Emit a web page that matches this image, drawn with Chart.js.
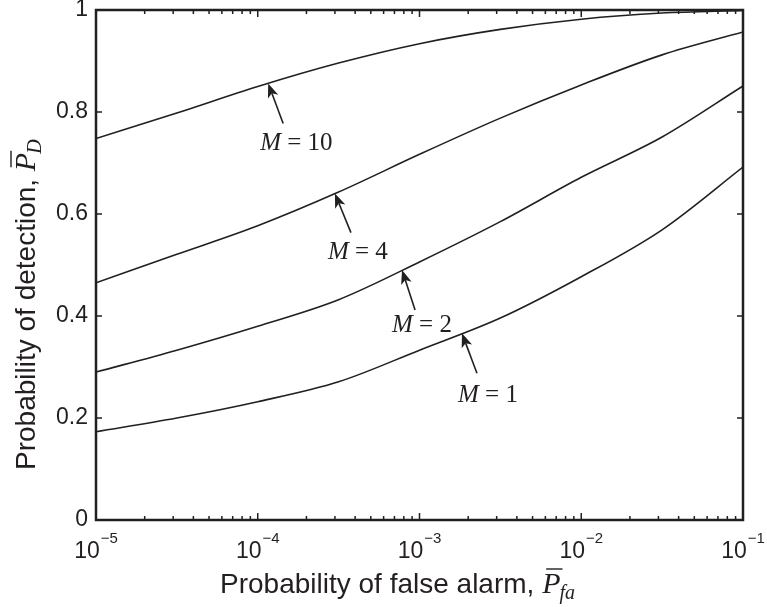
<!DOCTYPE html>
<html>
<head>
<meta charset="utf-8">
<script src="https://cdn.jsdelivr.net/npm/chart.js@4.4.1/dist/chart.umd.min.js"></script>
<style>
  html, body { margin: 0; padding: 0; background: #fff; }
  #wrap { width: 767px; height: 607px; }
</style>
</head>
<body>
<div id="wrap"><canvas id="roc" width="767" height="607"></canvas></div>
<script>
// --- data ---

// false alarm probability, half-decade steps
const pfa = [1e-5, 3.16e-5, 1e-4, 3.16e-4, 1e-3, 3.16e-3, 1e-2, 3.16e-2, 1e-1];

// detection probability for each M
const pdM1  = [0.173, 0.200, 0.232, 0.271, 0.333, 0.396, 0.477, 0.569, 0.692];
const pdM2  = [0.290, 0.333, 0.380, 0.432, 0.506, 0.585, 0.672, 0.751, 0.851];
const pdM4  = [0.465, 0.521, 0.577, 0.643, 0.717, 0.788, 0.853, 0.912, 0.957];
const pdM10 = [0.748, 0.798, 0.850, 0.896, 0.934, 0.962, 0.982, 0.994, 0.999];

const seriesNames = ['M = 1', 'M = 2', 'M = 4', 'M = 10'];
const seriesVals = [pdM1, pdM2, pdM4, pdM10];

const yTicks = [0, 0.2, 0.4, 0.6, 0.8, 1];
const yTickLabels = ['0', '0.2', '0.4', '0.6', '0.8', '1'];
const xTickExps = [-5, -4, -3, -2, -1];

// arrows: which curve, and the P_fa where the arrow touches it
const annoSeries = [3, 2, 1, 0];
const annoPfa = [1.16e-4, 3.0e-4, 7.8e-4, 1.83e-3];

// --- styling ---
const ink = '#231f20';
const sans = '"Liberation Sans", Arial, Helvetica, sans-serif';
const serif = '"Liberation Serif", "Times New Roman", serif';

// tail / label offsets from the arrow tip, px
const annoOffsets = [
    { tail: [15, 40], label: [-8, 67] },
    { tail: [16, 39], label: [-7, 65] },
    { tail: [13, 40], label: [-10, 62] },
    { tail: [15, 40], label: [-4, 69] }
];

function pdAt(vals, x) {
    const lx = Math.log10(x);
    for (let i = 0; i < pfa.length - 1; i++) {
        const a = Math.log10(pfa[i]), b = Math.log10(pfa[i + 1]);
        if (lx >= a && lx <= b) return vals[i] + (vals[i + 1] - vals[i]) * (lx - a) / (b - a);
    }
    return vals[vals.length - 1];
}

// "Probability of ..., P̄_sub" drawn from the current origin along the baseline
function drawAxisTitle(ctx, text, sub) {
    ctx.textBaseline = 'alphabetic';
    ctx.textAlign = 'left';
    ctx.font = '28px ' + sans;
    ctx.fillText(text, 0, 0);
    let x = ctx.measureText(text).width;
    ctx.font = 'italic 30px ' + serif;
    ctx.fillText('P', x, 0);
    const pw = ctx.measureText('P').width;
    ctx.lineWidth = 1.4;
    ctx.beginPath();
    ctx.moveTo(x + 4, -24);
    ctx.lineTo(x + pw + 2, -24);
    ctx.stroke();
    ctx.font = 'italic 20px ' + serif;
    ctx.fillText(sub, x + pw - 1, 6);
}

const frame = {
    id: 'frame',
    afterDatasetsDraw(chart) {
        const { ctx, chartArea: a, scales: { x, y } } = chart;
        ctx.save();
        ctx.strokeStyle = ink;
        ctx.fillStyle = ink;

        // inward ticks on all four sides
        ctx.lineWidth = 1.5;
        ctx.beginPath();
        yTicks.forEach(v => {
            const py = y.getPixelForValue(v);
            ctx.moveTo(a.left, py); ctx.lineTo(a.left + 6, py);
            ctx.moveTo(a.right, py); ctx.lineTo(a.right - 6, py);
        });
        xTickExps.forEach(e => {
            for (let m = 1; m <= 9; m++) {
                const v = m * Math.pow(10, e);
                if (v > x.max * 1.0001) break;
                const px = x.getPixelForValue(v);
                const len = m === 1 ? 7 : 4;
                ctx.moveTo(px, a.bottom); ctx.lineTo(px, a.bottom - len);
                ctx.moveTo(px, a.top); ctx.lineTo(px, a.top + len);
            }
        });
        ctx.stroke();

        ctx.lineWidth = 2.5;
        ctx.strokeRect(a.left, a.top, a.right - a.left, a.bottom - a.top);

        // x tick labels 10^e
        xTickExps.forEach(e => {
            const px = x.getPixelForValue(Math.pow(10, e));
            const exp = '\u2212' + Math.abs(e);
            ctx.font = '23px ' + sans;
            const bw = ctx.measureText('10').width;
            ctx.font = '15px ' + sans;
            const ew = ctx.measureText(exp).width;
            const x0 = px - (bw + ew + 1) / 2;
            ctx.textAlign = 'left';
            ctx.textBaseline = 'alphabetic';
            ctx.font = '23px ' + sans;
            ctx.fillText('10', x0, 558);
            ctx.font = '15px ' + sans;
            ctx.fillText(exp, x0 + bw + 1, 543);
        });

        // axis titles
        ctx.save();
        ctx.translate(220, 593);
        drawAxisTitle(ctx, 'Probability of false alarm, ', 'fa');
        ctx.restore();

        ctx.save();
        ctx.translate(35, 470);
        ctx.rotate(-Math.PI / 2);
        drawAxisTitle(ctx, 'Probability of detection, ', 'D');
        ctx.restore();

        // arrows with labels
        annoSeries.forEach((si, k) => {
            const tipX = x.getPixelForValue(annoPfa[k]);
            const tipY = y.getPixelForValue(pdAt(seriesVals[si], annoPfa[k]));
            const o = annoOffsets[k];
            const tailX = tipX + o.tail[0], tailY = tipY + o.tail[1];
            const ang = Math.atan2(tipY - tailY, tipX - tailX);
            const c = Math.cos(ang), s = Math.sin(ang);
            const headLen = 14, headW = 5.5;
            const bx = tipX - headLen * c, by = tipY - headLen * s;
            const nx = tipX - headLen * 0.75 * c, ny = tipY - headLen * 0.75 * s;

            ctx.lineWidth = 1.6;
            ctx.beginPath();
            ctx.moveTo(tailX, tailY);
            ctx.lineTo(nx, ny);
            ctx.stroke();

            ctx.beginPath();
            ctx.moveTo(tipX, tipY);
            ctx.lineTo(bx - headW * s, by + headW * c);
            ctx.lineTo(nx, ny);
            ctx.lineTo(bx + headW * s, by - headW * c);
            ctx.closePath();
            ctx.fill();

            const name = seriesNames[si];
            const lx = tipX + o.label[0], ly = tipY + o.label[1];
            ctx.textAlign = 'left';
            ctx.textBaseline = 'alphabetic';
            ctx.font = 'italic 25px ' + serif;
            ctx.fillText(name[0], lx, ly);
            const mw = ctx.measureText(name[0]).width;
            ctx.font = '25px ' + serif;
            ctx.fillText(name.slice(1), lx + mw, ly);
        });

        ctx.restore();
    }
};

new Chart(document.getElementById('roc'), {
    type: 'line',
    data: {
        datasets: seriesVals.map((vals, i) => ({
            label: seriesNames[i],
            data: pfa.map((p, j) => ({ x: p, y: vals[j] })),
            borderColor: ink,
            borderWidth: 1.6,
            pointRadius: 0,
            cubicInterpolationMode: 'monotone',
            fill: false
        }))
    },
    options: {
        responsive: false,
        animation: false,
        devicePixelRatio: 1,
        layout: { padding: { top: 10, right: 24, left: 0, bottom: 0 } },
        plugins: { legend: { display: false }, tooltip: { enabled: false } },
        scales: {
            x: {
                type: 'logarithmic', min: 1e-5, max: 1e-1,
                grid: { display: false, drawTicks: false },
                border: { display: false },
                ticks: { display: false },
                afterFit: s => { s.height = 87; s.paddingLeft = 0; s.paddingRight = 0; }
            },
            y: {
                min: 0, max: 1,
                grid: { display: false, drawTicks: false },
                border: { display: false },
                afterBuildTicks: s => { s.ticks = yTicks.map(v => ({ value: v })); },
                ticks: {
                    font: { family: sans, size: 23 },
                    color: ink,
                    padding: 8,
                    callback: (v, i) => yTickLabels[i]
                },
                afterFit: s => { s.width = 96; s.paddingTop = 0; s.paddingBottom = 0; }
            }
        }
    },
    plugins: [frame]
});
</script>
</body>
</html>
